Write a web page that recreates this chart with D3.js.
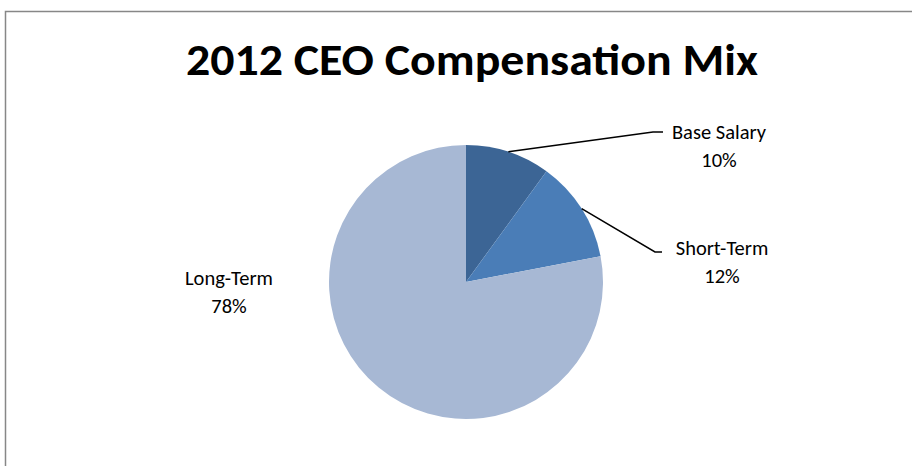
<!DOCTYPE html>
<html>
<head>
<meta charset="utf-8">
<script src="https://cdn.jsdelivr.net/npm/d3@7"></script>
<style>
  body { margin: 0; background: #fff; }
  text { font-family: Carlito, "Liberation Sans Narrow", "Liberation Sans", sans-serif; }
</style>
</head>
<body>
<div id="chart"></div>
<script>
// Data
const categories = ["Base Salary", "Short-Term", "Long-Term"];
const values = [10, 12, 78];
const colors = ["#3C6595", "#4A7DB7", "#A7B8D4"];

const width = 912, height = 466;
const cx = 466, cy = 282, radius = 137;

const svg = d3.select("#chart")
    .append("svg")
    .attr("width", width)
    .attr("height", height);

// chart frame
svg.append("rect")
    .attr("x", 5.5)
    .attr("y", 11.5)
    .attr("width", 920)
    .attr("height", 480)
    .attr("fill", "#fff")
    .attr("stroke", "#878787")
    .attr("stroke-width", 1.5);

svg.append("text")
    .attr("x", 472)
    .attr("y", 75)
    .attr("text-anchor", "middle")
    .attr("font-size", 44)
    .attr("font-weight", "bold")
    .attr("textLength", 572)
    .attr("lengthAdjust", "spacingAndGlyphs")
    .text("2012 CEO Compensation Mix");

const pie = d3.pie().sort(null).value(d => d.value);
const arc = d3.arc().innerRadius(0).outerRadius(radius);
const arcs = pie(categories.map((c, i) => ({name: c, value: values[i], color: colors[i]})));

const g = svg.append("g").attr("transform", `translate(${cx},${cy})`);

g.selectAll("path")
    .data(arcs)
    .enter()
    .append("path")
    .attr("d", arc)
    .attr("fill", d => d.data.color)
    .attr("stroke", "none");

// label placement (relative to pie centre)
const labelPos = [
    {elbow: [187, -150], end: [197, -150], tx: 253, ty: -143, leader: true},
    {elbow: [189, -30], end: [196, -30], tx: 256, ty: -27, leader: true},
    {tx: -237, ty: 3, leader: false}
];

const edge = d3.arc().innerRadius(radius).outerRadius(radius);

g.selectAll("polyline")
    .data(arcs.filter((d, i) => labelPos[i].leader))
    .enter()
    .append("polyline")
    .attr("points", (d, i) => {
        const p = edge.centroid(d);
        const lp = labelPos[d.index];
        return [p, lp.elbow, lp.end].map(q => q.join(",")).join(" ");
    })
    .attr("fill", "none")
    .attr("stroke", "#000")
    .attr("stroke-width", 1.5);

const labels = g.selectAll("text.lbl")
    .data(arcs)
    .enter()
    .append("text")
    .attr("class", "lbl")
    .attr("text-anchor", "middle")
    .attr("font-size", 20.5)
    .attr("fill", "#000");

labels.append("tspan")
    .attr("x", d => labelPos[d.index].tx)
    .attr("y", d => labelPos[d.index].ty)
    .text(d => d.data.name);

labels.append("tspan")
    .attr("x", d => labelPos[d.index].tx)
    .attr("y", d => labelPos[d.index].ty + 28)
    .text(d => d.data.value + "%");
</script>
</body>
</html>
